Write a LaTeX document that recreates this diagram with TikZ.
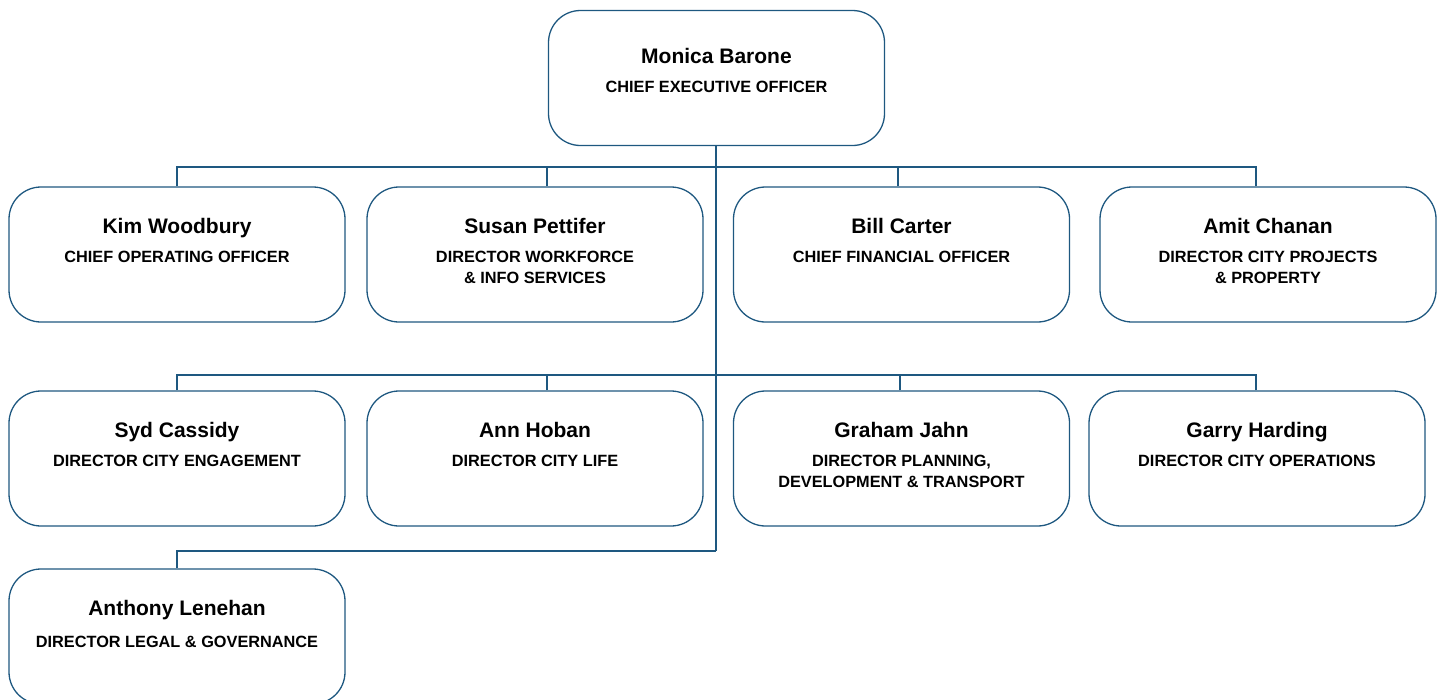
\documentclass[tikz,border=0pt]{standalone}
\usepackage{fontspec}
\setmainfont{Liberation Sans}
\usetikzlibrary{positioning}
\definecolor{orgblue}{RGB}{30,88,128}
\newcommand{\post}[4][46pt]{\parbox[c][135pt][t]{336pt}{\centering
  \fontsize{16.3}{21}\selectfont\bfseries
  \rule{0pt}{#1}{\fontsize{21}{21}\selectfont #3}\\[#2]#4}}

\begin{document}
\begin{tikzpicture}[x=1pt,y=-1pt,
    role/.style={draw=orgblue, line width=1.3pt, rounded corners=32pt, inner sep=0pt},
    link/.style={draw=orgblue, line width=1.3pt}]
  \useasboundingbox (0,0) rectangle (1445,699);

  \node[role] (ceo) at (716.5,78) {\post[53pt]{8pt}{Monica Barone}{CHIEF EXECUTIVE OFFICER}};

  \node[role] (kim)    at (177,254.5)  {\post{8pt}{Kim Woodbury}{CHIEF OPERATING OFFICER}};
  \node[role] (susan)  at (535,254.5)  {\post{8pt}{Susan Pettifer}{DIRECTOR WORKFORCE\\\& INFO SERVICES}};
  \node[role] (bill)   at (901.5,254.5){\post{8pt}{Bill Carter}{CHIEF FINANCIAL OFFICER}};
  \node[role] (amit)   at (1268,254.5) {\post{8pt}{Amit Chanan}{DIRECTOR CITY PROJECTS\\\& PROPERTY}};

  \node[role] (syd)    at (177,458.5)  {\post{8pt}{Syd Cassidy}{DIRECTOR CITY ENGAGEMENT}};
  \node[role] (ann)    at (535,458.5)  {\post{8pt}{Ann Hoban}{DIRECTOR CITY LIFE}};
  \node[role] (graham) at (901.5,458.5){\post{8pt}{Graham Jahn}{DIRECTOR PLANNING,\\DEVELOPMENT \& TRANSPORT}};
  \node[role] (garry)  at (1257,458.5) {\post{8pt}{Garry Harding}{DIRECTOR CITY OPERATIONS}};

  \node[role] (anthony) at (177,636.5) {\post{11pt}{Anthony Lenehan}{DIRECTOR LEGAL \& GOVERNANCE}};

  \coordinate (busA)  at (716,167);
  \coordinate (busB)  at (716,375);
  \coordinate (spine) at (716,551);

  \draw[link] (ceo.south -| spine) -- (spine);
  \draw[link] (kim.north) |- (busA);
  \draw[link] ([xshift=12pt]susan.north) |- (busA);
  \draw[link] ([xshift=-3.5pt]bill.north) |- (busA);
  \draw[link] ([xshift=-12pt]amit.north) |- (busA);
  \draw[link] (syd.north) |- (busB);
  \draw[link] ([xshift=12pt]ann.north) |- (busB);
  \draw[link] ([xshift=-1.5pt]graham.north) |- (busB);
  \draw[link] ([xshift=-1pt]garry.north) |- (busB);
  \draw[link] (anthony.north) |- (spine);
\end{tikzpicture}
\end{document}
